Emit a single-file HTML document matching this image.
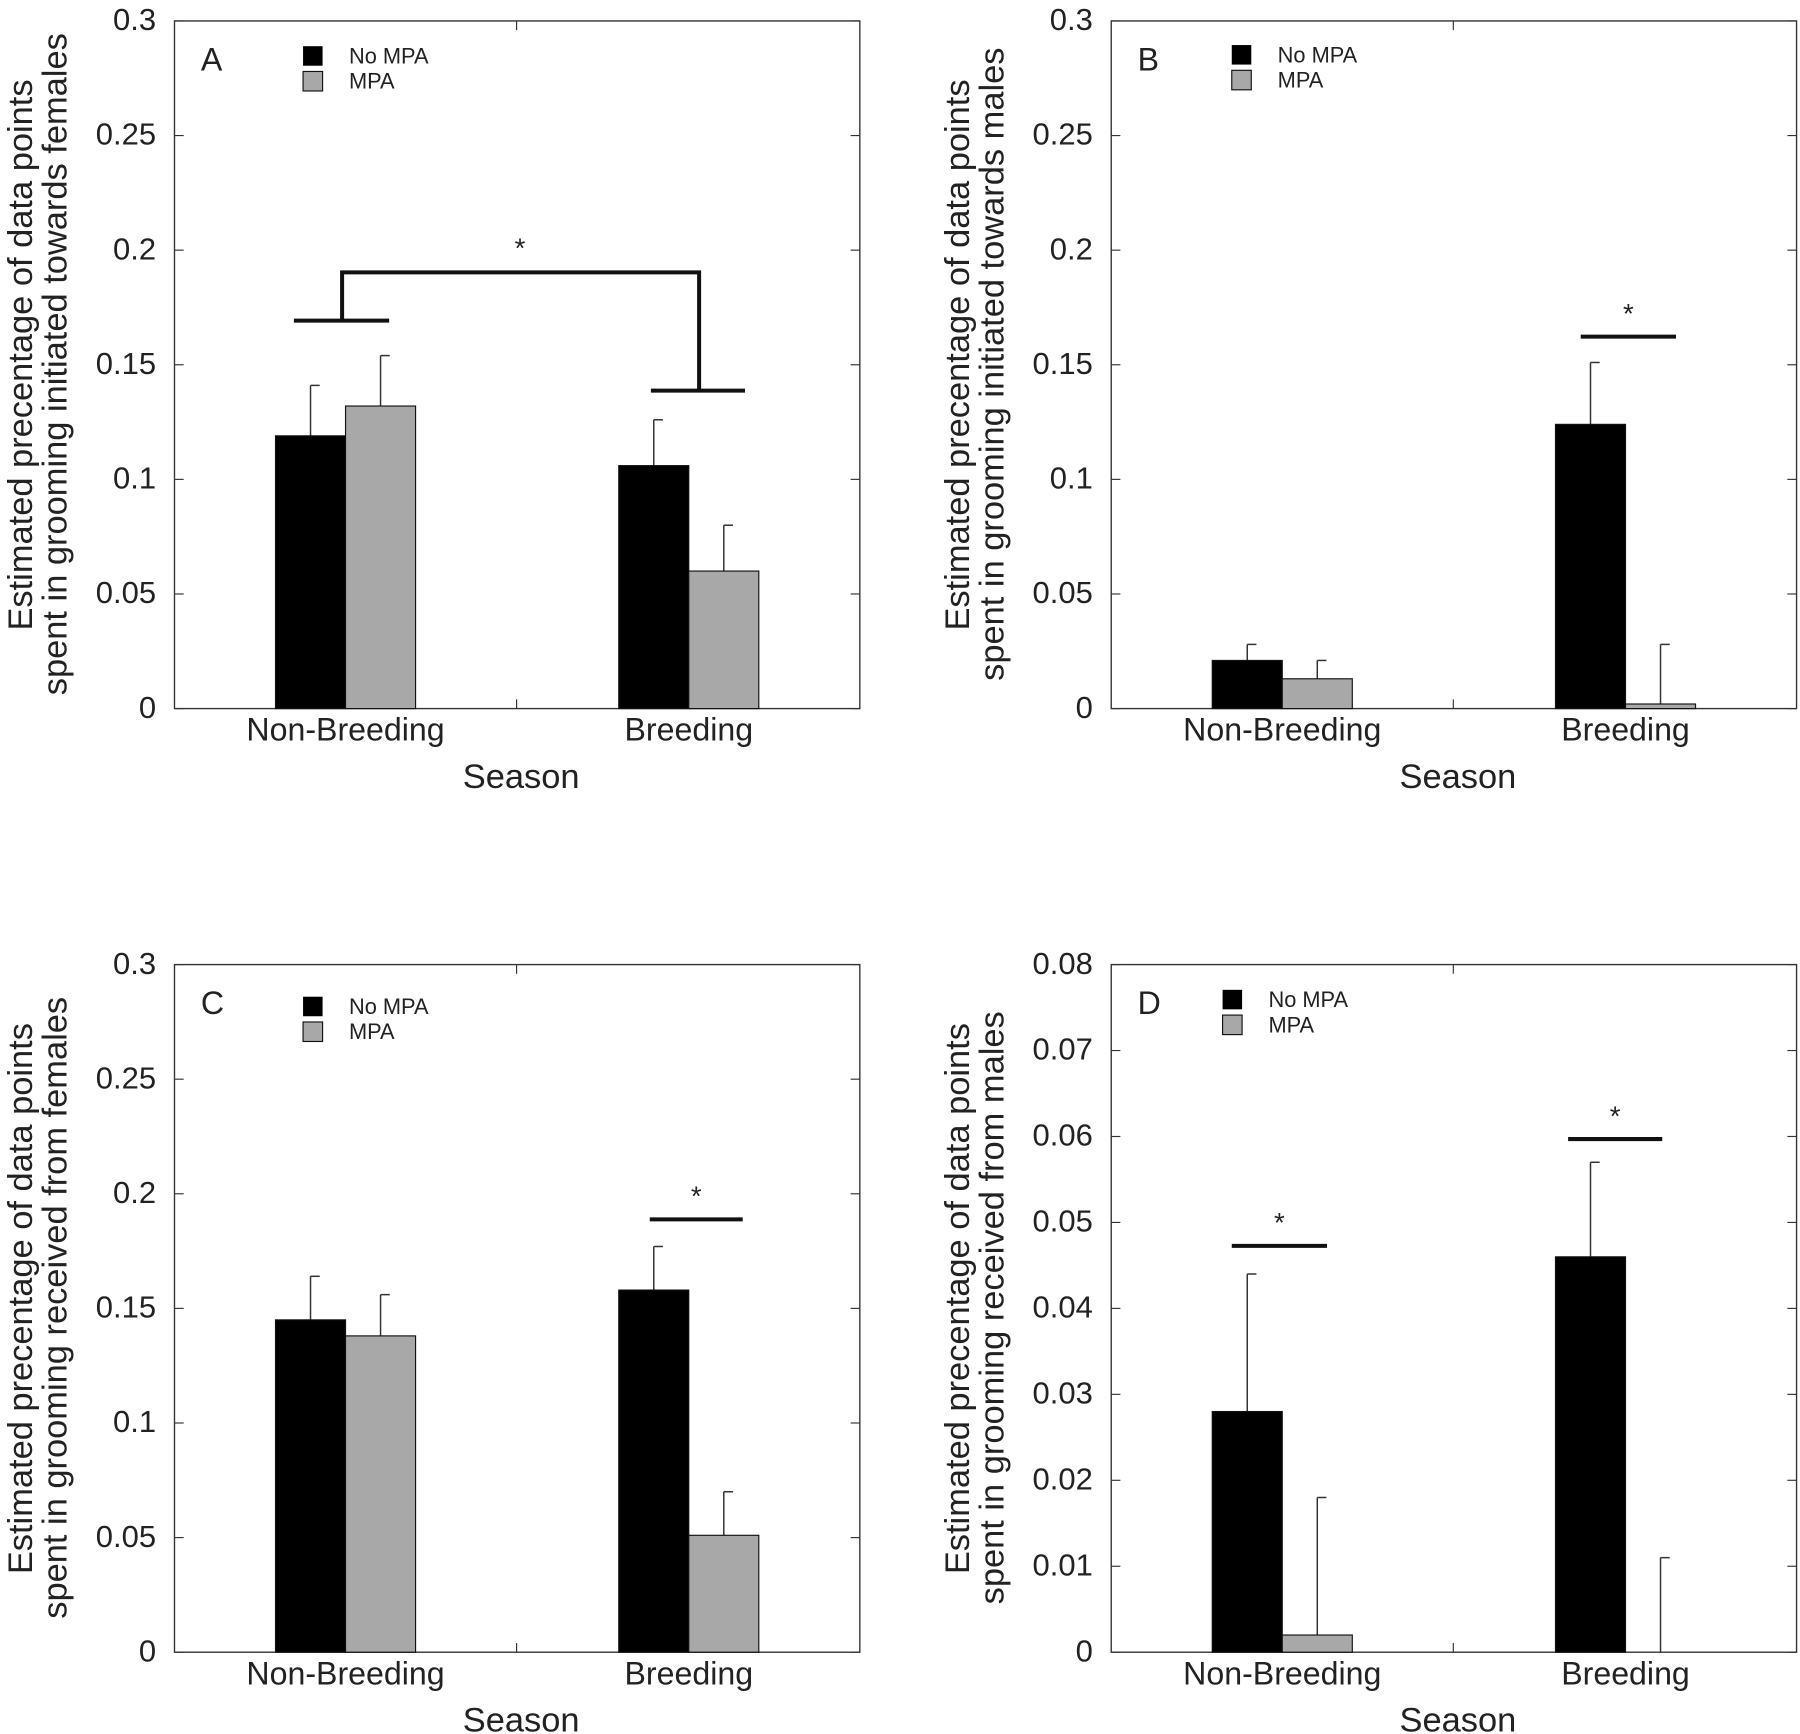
<!DOCTYPE html>
<html><head><meta charset="utf-8"><style>
html,body{margin:0;padding:0;background:#fff}
svg{display:block}
text{font-family:"Liberation Sans",Arial,sans-serif;fill:#222}
</style></head><body>
<svg id="s" width="1800" height="1734" viewBox="0 0 1568 1510" xmlns="http://www.w3.org/2000/svg"></svg>
<script>
var S=document.getElementById('s'),h='';
function panel(o){
 var L=o.x,R=o.x+597,T=o.y,B=o.y+599,max=o.max;
 function Y(v){return B-v/max*599;}
 h+='<rect x="'+L+'" y="'+T+'" width="597" height="599" fill="none" stroke="#333" stroke-width="1.2"/>';
 o.ticks.forEach(function(t){var y=Y(t);
  h+='<line x1="'+L+'" x2="'+(L+8)+'" y1="'+y+'" y2="'+y+'" stroke="#333"/><line x1="'+(R-8)+'" x2="'+R+'" y1="'+y+'" y2="'+y+'" stroke="#333"/>';
  h+='<text x="'+(L-16)+'" y="'+(y+8)+'" font-size="27" text-anchor="end">'+t+'</text>';});
 var mx=L+298;
 h+='<line x1="'+mx+'" x2="'+mx+'" y1="'+T+'" y2="'+(T+8)+'" stroke="#333"/><line x1="'+mx+'" x2="'+mx+'" y1="'+(B-8)+'" y2="'+B+'" stroke="#333"/>';
 var xs=[L+88,L+149,L+387,L+448];
 o.bars.forEach(function(b,i){var x=xs[i],y=Y(b[0]),w=61;
  if(b[1]>b[0])h+='<line x1="'+(x+w/2)+'" x2="'+(x+w/2)+'" y1="'+Y(b[1])+'" y2="'+y+'" stroke="#333" stroke-width="1.3"/><line x1="'+(x+w/2)+'" x2="'+(x+w/2+8)+'" y1="'+Y(b[1])+'" y2="'+Y(b[1])+'" stroke="#333" stroke-width="1.3"/>';
  if(b[0]>0)h+='<rect x="'+x+'" y="'+y+'" width="'+w+'" height="'+(B-y)+'" fill="'+(i%2?'#a8a8a8':'#000')+'" stroke="#111" stroke-width="1"/>';});
 h+='<text x="'+(L+149)+'" y="'+(B+28)+'" font-size="28" text-anchor="middle">Non-Breeding</text>';
 h+='<text x="'+(L+448)+'" y="'+(B+28)+'" font-size="28" text-anchor="middle">Breeding</text>';
 h+='<text x="'+(L+302)+'" y="'+(B+69)+'" font-size="30" text-anchor="middle">Season</text>';
 h+='<text x="'+(L+23)+'" y="'+(T+43)+'" font-size="28">'+o.letter+'</text>';
 var lx=o.lx,ly=o.ly;
 h+='<rect x="'+lx+'" y="'+ly+'" width="17" height="17" fill="#000"/><rect x="'+lx+'" y="'+(ly+22)+'" width="17" height="17" fill="#a8a8a8" stroke="#111"/>';
 h+='<text x="'+(lx+40)+'" y="'+(ly+15)+'" font-size="19">No MPA</text><text x="'+(lx+40)+'" y="'+(ly+37)+'" font-size="19">MPA</text>';
 var cy=T+299;
 h+='<text transform="translate('+(L-124)+','+(cy-8)+') rotate(-90)" font-size="30" text-anchor="middle">Estimated precentage of data points</text>';
 h+='<text transform="translate('+(L-94)+','+cy+') rotate(-90)" font-size="30" text-anchor="middle">'+o.yl+'</text>';
 (o.sig||[]).forEach(function(s){h+='<line x1="'+s[0]+'" x2="'+s[1]+'" y1="'+s[2]+'" y2="'+s[2]+'" stroke="#111" stroke-width="3.5"/><text x="'+((s[0]+s[1])/2)+'" y="'+(s[2]-12)+'" font-size="24" text-anchor="middle">*</text>';});
}
var t3=[0,0.05,0.1,0.15,0.2,0.25,0.3];
panel({x:152,y:18,max:0.3,ticks:t3,letter:'A',lx:264,ly:40,yl:'spent in grooming initiated towards females',
 bars:[[.119,.141],[.132,.154],[.106,.126],[.060,.080]]});
h+='<path d="M256 279H339M298 279V237H609V340M567 340H649" fill="none" stroke="#111" stroke-width="3.5"/><text x="453" y="224" font-size="24" text-anchor="middle">*</text>';
panel({x:968,y:18,max:0.3,ticks:t3,letter:'B',lx:1073,ly:39,yl:'spent in grooming initiated towards males',
 bars:[[.021,.028],[.013,.021],[.124,.151],[.002,.028]],sig:[[1377,1460,293]]});
panel({x:152,y:840,max:0.3,ticks:t3,letter:'C',lx:264,ly:868,yl:'spent in grooming received from females',
 bars:[[.145,.164],[.138,.156],[.158,.177],[.051,.070]],sig:[[566,647,1062]]});
panel({x:968,y:840,max:0.08,ticks:[0,0.01,0.02,0.03,0.04,0.05,0.06,0.07,0.08],letter:'D',lx:1065,ly:862,yl:'spent in grooming received from males',
 bars:[[.028,.044],[.002,.018],[.046,.057],[0,.011]],sig:[[1073,1156,1085],[1366,1448,992]]});
S.innerHTML=h;
</script>
</body></html>
